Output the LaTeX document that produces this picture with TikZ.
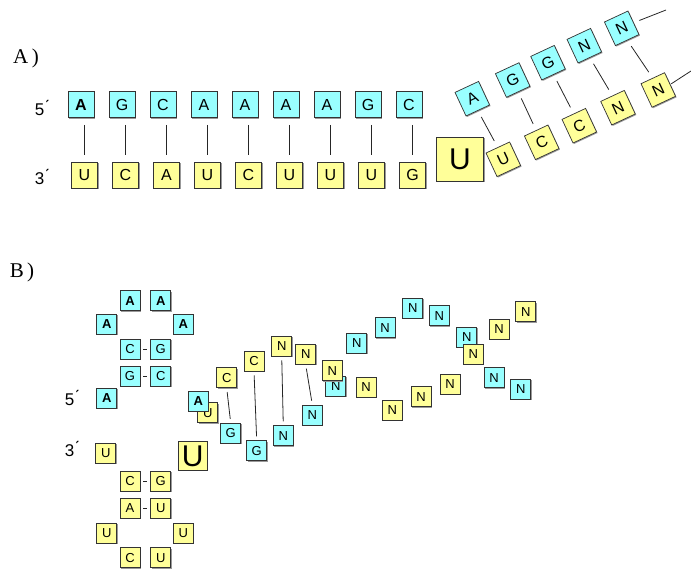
\documentclass[tikz,border=0pt]{standalone}
\usepackage{fontspec}
\setmainfont{Liberation Sans}
\newfontfamily\partfont{Liberation Serif}
\usepackage{xcolor}
\usepackage{tikz}
\usetikzlibrary{shadows}

\definecolor{rnacyan}{HTML}{99FFFF}
\definecolor{rnayellow}{HTML}{FFFF99}

\begin{document}
\begin{tikzpicture}[
    x=1pt, y=-1pt,
    node distance=41pt,
    base/.style={draw=black!80, line width=0.7pt, inner sep=0pt,
        drop shadow={shadow xshift=1pt, shadow yshift=-1pt, fill=black!40, opacity=1}},
    cyanbox/.style={base, fill=rnacyan, minimum size=26pt, font=\fontsize{16}{16}\selectfont},
    yellowbox/.style={base, fill=rnayellow, minimum size=26pt, font=\fontsize{16}{16}\selectfont},
    cyansmall/.style={base, fill=rnacyan, minimum size=20pt, font=\fontsize{13}{13}\selectfont},
    yellowsmall/.style={base, fill=rnayellow, minimum size=20pt, font=\fontsize{13}{13}\selectfont},
    bigU/.style={base, fill=rnayellow, font=\fontsize{30}{30}\selectfont},
    tag/.style={font=\fontsize{17}{17}\selectfont},
    part/.style={font=\partfont\fontsize{21}{21}\selectfont},
    link/.style={line width=0.8pt, black!85},
    pair/.style={link, shorten >=7pt, shorten <=7pt},
    bpair/.style={link, shorten >=4pt, shorten <=4pt},
    tick/.style={link, shorten >=3pt, shorten <=3pt}
]
\useasboundingbox (0,0) rectangle (691,570);

% ---------------- A)
\node[part] (partA) at (26,58) {A\,)};
\node[tag] (fiveA) at (42,108) {5\'{}};
\node[tag] (threeA) at (42,177) {3\'{}};

% upper strand
\node[cyanbox] (t1) at (81,104.5) {\textbf{A}};
\node[cyanbox] (t2) [right of=t1] {G};
\node[cyanbox] (t3) [right of=t2] {C};
\node[cyanbox] (t4) [right of=t3] {A};
\node[cyanbox] (t5) [right of=t4] {A};
\node[cyanbox] (t6) [right of=t5] {A};
\node[cyanbox] (t7) [right of=t6] {A};
\node[cyanbox] (t8) [right of=t7] {G};
\node[cyanbox] (t9) [right of=t8] {C};

% lower strand
\node[yellowbox] (b1) at (84.5,175) {U};
\node[yellowbox] (b2) [right of=b1] {C};
\node[yellowbox] (b3) [right of=b2] {A};
\node[yellowbox] (b4) [right of=b3] {U};
\node[yellowbox] (b5) [right of=b4] {C};
\node[yellowbox] (b6) [right of=b5] {U};
\node[yellowbox] (b7) [right of=b6] {U};
\node[yellowbox] (b8) [right of=b7] {U};
\node[yellowbox] (b9) [right of=b8] {G};

\node[bigU, minimum width=47pt, minimum height=44pt] (bulgeA) at (460,159) {U};

% tilted part
\node[cyanbox, rotate=25] (ta) at (472.3,98.7) {A};
\node[cyanbox, rotate=25] (tg1) at (512.7,80) {G};
\node[cyanbox, rotate=25] (tg2) at (548,62.7) {G};
\node[cyanbox, rotate=25] (tn1) at (584.3,45.7) {N};
\node[cyanbox, rotate=25] (tn2) at (621.7,28.3) {N};
\node[yellowbox, rotate=25] (bu) at (503.3,159.3) {U};
\node[yellowbox, rotate=25] (bc1) at (541.7,142.3) {C};
\node[yellowbox, rotate=25] (bc2) at (579.3,125.7) {C};
\node[yellowbox, rotate=25] (bn1) at (618,107.7) {N};
\node[yellowbox, rotate=25] (bn2) at (658.3,90) {N};
\coordinate (endtop) at (666,10);
\coordinate (endbot) at (691,71);

% pairings
\draw[pair] (t1.south -| b1.north) -- (b1.north);
\draw[pair] (t2.south -| b2.north) -- (b2.north);
\draw[pair] (t3.south -| b3.north) -- (b3.north);
\draw[pair] (t4.south -| b4.north) -- (b4.north);
\draw[pair] (t5.south -| b5.north) -- (b5.north);
\draw[pair] (t6.south -| b6.north) -- (b6.north);
\draw[pair] (t7.south -| b7.north) -- (b7.north);
\draw[pair] (t8.south -| b8.north) -- (b8.north);
\draw[pair] (t9.south -| b9.north) -- (b9.north);
\draw[pair] (ta.south) -- (bu.north);
\draw[pair] (tg1.south) -- (bc1.north);
\draw[pair] (tg2.south) -- (bc2.north);
\draw[pair] (tn1.south) -- (bn1.north);
\draw[pair] (tn2.south) -- (bn2.north);
\draw[link, shorten <=6pt] (tn2.east) -- (endtop);
\draw[link, shorten <=1pt] (bn2.east) -- (endbot);

% ---------------- B)
\node[part] (partB) at (22,272) {B\,)};
\node[tag] (fiveB) at (72,398) {5\'{}};
\node[tag] (threeB) at (72,449) {3\'{}};

% hairpin of the upper strand
\node[cyansmall] (ha1) at (130,300.7) {\textbf{A}};
\node[cyansmall] (ha2) at (160.7,300.7) {\textbf{A}};
\node[cyansmall] (ha3) at (106.7,324.3) {\textbf{A}};
\node[cyansmall] (ha4) at (183.3,324.3) {\textbf{A}};
\node[cyansmall] (hc1) at (130,349.3) {C};
\node[cyansmall] (hg1) at (160.7,349.3) {G};
\node[cyansmall] (hg2) at (130,376) {G};
\node[cyansmall] (hc2) at (160.7,376) {C};
\node[cyansmall] (ha5) at (106.7,398.3) {\textbf{A}};

% hairpin of the lower strand
\node[yellowsmall] (ku1) at (105.7,453.3) {U};
\node[yellowsmall] (kc1) at (130,481) {C};
\node[yellowsmall] (kg1) at (160.7,481) {G};
\node[yellowsmall] (ka1) at (130,508.3) {A};
\node[yellowsmall] (ku2) at (160.7,508.3) {U};
\node[yellowsmall] (ku3) at (106.7,533.3) {U};
\node[yellowsmall] (ku4) at (183.3,533.3) {U};
\node[yellowsmall] (kc2) at (130,557.7) {C};
\node[yellowsmall] (ku5) at (160.7,557.7) {U};
\node[bigU, minimum size=28.5pt] (bulgeB) at (192.7,456) {U};

% twisted duplex
\node[yellowsmall] (yu) at (207.7,412.7) {U};
\node[cyansmall] (ca) at (198.3,401) {\textbf{A}};
\node[yellowsmall] (yc1) at (226.7,377.7) {C};
\node[yellowsmall] (yc2) at (254,361) {C};
\node[yellowsmall] (yn1) at (281.7,346) {N};
\node[yellowsmall] (yn2) at (305.7,354.3) {N};
\node[cyansmall] (cn3) at (335.7,386) {N};
\node[yellowsmall] (yn3) at (332.3,370.7) {N};
\node[yellowsmall] (yn4) at (366,387.3) {N};
\node[yellowsmall] (yn5) at (392.3,410) {N};
\node[yellowsmall] (yn6) at (421,396.7) {N};
\node[yellowsmall] (yn7) at (450,384.3) {N};
\node[cyansmall] (cg1) at (230.7,433.3) {G};
\node[cyansmall] (cg2) at (256.7,450.7) {G};
\node[cyansmall] (cn1) at (283.3,435.7) {N};
\node[cyansmall] (cn2) at (312.3,415) {N};
\node[cyansmall] (cn4) at (356.7,343.3) {N};
\node[cyansmall] (cn5) at (385,327.7) {N};
\node[cyansmall] (cn6) at (412.7,308.3) {N};
\node[cyansmall] (cn7) at (439.3,315.7) {N};
\node[cyansmall] (cn8) at (466.7,337.3) {N};
\node[yellowsmall] (yn8) at (473.3,354) {N};
\node[yellowsmall] (yn9) at (499,329) {N};
\node[yellowsmall] (yn10) at (525.7,311.7) {N};
\node[cyansmall] (cn9) at (494,377.7) {N};
\node[cyansmall] (cn10) at (520.7,389.3) {N};

% pairings
\draw[tick] (hc1) -- (hg1);
\draw[tick] (hg2) -- (hc2);
\draw[tick] (kc1) -- (kg1);
\draw[tick] (ka1) -- (ku2);
\draw[bpair] (yc1.south) -- (cg1.north);
\draw[bpair] (yc2.south) -- (cg2.north);
\draw[bpair] (yn1.south) -- (cn1.north);
\draw[bpair] (yn2.south) -- (cn2.north);

\end{tikzpicture}
\end{document}
